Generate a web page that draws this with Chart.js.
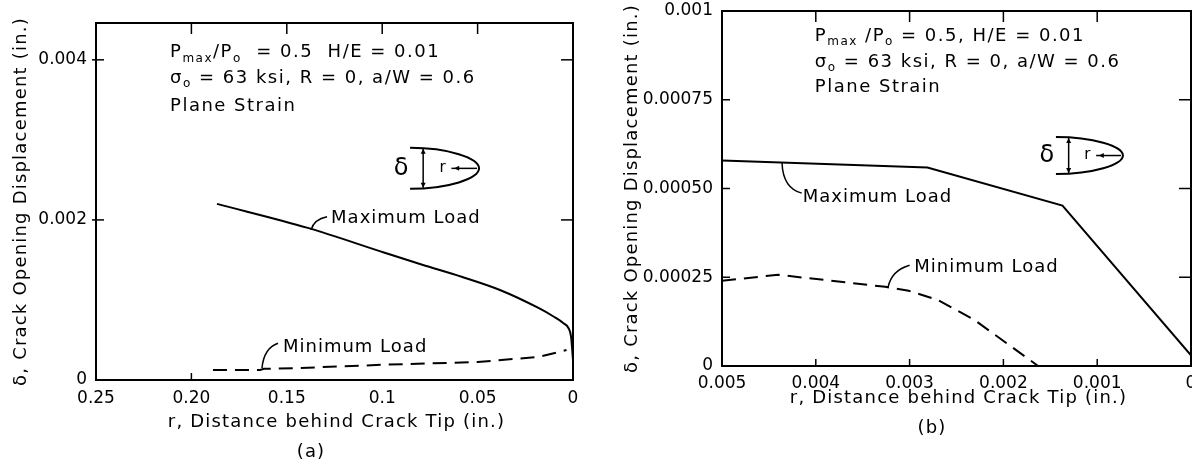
<!DOCTYPE html>
<html lang="en">
<head>
<meta charset="UTF-8">
<title>Crack opening displacement behind the crack tip</title>
<script src="https://cdn.jsdelivr.net/npm/chart.js"></script>
<style>
    body { margin: 0; background: #fff; }
    #page { position: relative; width: 1192px; height: 464px; overflow: hidden; }
    canvas { position: absolute; top: 0; display: block; }
    #chartA { left: 0; }
    #chartB { left: 590px; }
</style>
</head>
<body>
<div id="page">
    <canvas id="chartA" width="590" height="464"></canvas>
    <canvas id="chartB" width="602" height="464"></canvas>
</div>

<script>
// ---------- panel (a) ----------
const rMaxA = [0.1866, 0.139, 0.0987, 0.079, 0.0584, 0.0383, 0.0181, 0.010, 0.005, 0.0024, 0.001, 0];
const dMaxA = [0.00220, 0.00190, 0.00159, 0.00144, 0.00129, 0.001125, 0.00090, 0.00079, 0.00071, 0.00065, 0.00054, 0.00025];
const rMinA = [0.1887, 0.164, 0.162, 0.143, 0.100, 0.050, 0.0175, 0.0034];
const dMinA = [0.000125, 0.000125, 0.00014, 0.00015, 0.00019, 0.000225, 0.00029, 0.000375];
const xTicksA = [0.25, 0.20, 0.15, 0.1, 0.05, 0];
const xLabelsA = ['0.25', '0.20', '0.15', '0.1', '0.05', '0'];
const yTicksA = [0, 0.002, 0.004];
const yLabelsA = ['0', '0.002', '0.004'];

// ---------- panel (b) ----------
const rMaxB = [0.005, 0.00281, 0.00137, 0];
const dMaxB = [0.000579, 0.000559, 0.000452, 0.00003];
const rMinB = [0.005, 0.0044, 0.00326, 0.00301, 0.0027, 0.00231, 0.00163];
const dMinB = [0.00024, 0.000257, 0.000223, 0.000212, 0.000186, 0.00013, 0];
const xTicksB = [0.005, 0.004, 0.003, 0.002, 0.001, 0];
const xLabelsB = ['0.005', '0.004', '0.003', '0.002', '0.001', '0'];
const yTicksB = [0, 0.00025, 0.0005, 0.00075, 0.001];
const yLabelsB = ['0', '0.00025', '0.00050', '0.00075', '0.001'];

const FONT = "'DejaVu Sans', sans-serif";
Chart.defaults.font.family = FONT;
Chart.defaults.color = '#000';

// text with subscripts, left aligned
function drawRuns(ctx, runs, x, y, size, spacing) {
    ctx.letterSpacing = spacing + 'px';
    ctx.textAlign = 'left';
    ctx.textBaseline = 'middle';
    runs.forEach(r => {
        const fs = r.sub ? Math.round(size * 0.65) : size;
        ctx.font = fs + 'px ' + FONT;
        ctx.fillText(r.t, x, y + (r.sub ? size * 0.32 : 0));
        x += ctx.measureText(r.t).width;
    });
}

function arrowHead(ctx, x, y, dx, dy) {
    // small filled head pointing along (dx, dy)
    const s = 5;
    ctx.beginPath();
    ctx.moveTo(x, y);
    ctx.lineTo(x - dx * s - dy * s * 0.5, y - dy * s + dx * s * 0.5);
    ctx.lineTo(x - dx * s + dy * s * 0.5, y - dy * s - dx * s * 0.5);
    ctx.closePath();
    ctx.fill();
}

// little sketch of the open crack with delta and r
function drawCrack(ctx, left, top, w, h) {
    const mid = top + h / 2;
    ctx.lineWidth = 2;
    ctx.beginPath();
    ctx.moveTo(left, top);
    ctx.bezierCurveTo(left + w * 0.55, top, left + w, top + h * 0.25, left + w, mid);
    ctx.bezierCurveTo(left + w, top + h * 0.75, left + w * 0.55, top + h, left, top + h);
    ctx.stroke();

    const ax = left + w * 0.19;
    ctx.lineWidth = 1.5;
    ctx.beginPath();
    ctx.moveTo(ax, top + 1);
    ctx.lineTo(ax, top + h - 1);
    ctx.stroke();
    arrowHead(ctx, ax, top + 1, 0, -1);
    arrowHead(ctx, ax, top + h - 1, 0, 1);

    ctx.beginPath();
    ctx.moveTo(left + w * 0.6, mid);
    ctx.lineTo(left + w - 2, mid);
    ctx.stroke();
    arrowHead(ctx, left + w * 0.64, mid, -1, 0);

    ctx.letterSpacing = '0px';
    ctx.textAlign = 'center';
    ctx.textBaseline = 'middle';
    ctx.font = '24px ' + FONT;
    ctx.fillText('δ', left - 9, mid);
    ctx.font = '15px ' + FONT;
    ctx.fillText('r', left + w * 0.47, mid);
}

const paper = {
    id: 'paper',
    beforeDraw(chart) {
        const ctx = chart.ctx;
        ctx.save();
        ctx.fillStyle = '#fff';
        ctx.fillRect(0, 0, chart.width, chart.height);
        ctx.restore();
    },
    afterDraw(chart, args, o) {
        const ctx = chart.ctx, a = chart.chartArea;
        const x = chart.scales.x, y = chart.scales.y;
        const P = (r, d) => [x.getPixelForValue(r), y.getPixelForValue(d)];
        const seg = (x1, y1, x2, y2) => {
            ctx.beginPath(); ctx.moveTo(x1, y1); ctx.lineTo(x2, y2); ctx.stroke();
        };
        ctx.save();
        ctx.strokeStyle = '#000';
        ctx.fillStyle = '#000';

        // top and right of the frame
        ctx.lineWidth = 2;
        ctx.beginPath();
        ctx.moveTo(a.left - 1, a.top);
        ctx.lineTo(a.right, a.top);
        ctx.lineTo(a.right, a.bottom + 1);
        ctx.stroke();

        // tick marks
        ctx.lineWidth = 1.5;
        o.topTicks.forEach(v => { const px = x.getPixelForValue(v); seg(px, a.top, px, a.top + 11); });
        o.bottomTicks.forEach(v => { const px = x.getPixelForValue(v); seg(px, a.bottom, px, a.bottom - 7); });
        o.leftTicks.forEach(v => { const py = y.getPixelForValue(v); seg(a.left - o.leftOut, py, a.left + 8, py); });
        o.rightTicks.forEach(v => { const py = y.getPixelForValue(v); seg(a.right - 12, py, a.right, py); });

        // parameter note
        o.note.forEach((runs, i) => {
            const p = P(o.noteAt[0], o.noteAt[1][i]);
            drawRuns(ctx, runs, p[0], p[1], 18, 1.5);
        });

        // curve labels with leaders
        o.labels.forEach(l => {
            const p = P(l.at[0], l.at[1]);
            drawRuns(ctx, [{t: l.text}], p[0], p[1], 18, 1);
            const p0 = P(l.lead[0][0], l.lead[0][1]);
            const p1 = P(l.lead[1][0], l.lead[1][1]);
            const p2 = P(l.lead[2][0], l.lead[2][1]);
            ctx.lineWidth = 1.5;
            ctx.beginPath();
            ctx.moveTo(p0[0], p0[1]);
            ctx.quadraticCurveTo(p1[0], p1[1], p2[0], p2[1]);
            ctx.stroke();
        });

        const c = P(o.crack.at[0], o.crack.at[1]);
        drawCrack(ctx, c[0], c[1], o.crack.w, o.crack.h);

        // axis titles and caption
        ctx.font = '18px ' + FONT;
        ctx.letterSpacing = '1.2px';
        ctx.textAlign = 'center';
        ctx.textBaseline = 'middle';
        ctx.fillText('r, Distance behind Crack Tip (in.)', (a.left + a.right) / 2 + o.xTitleDx, a.bottom + o.xTitleDy);
        ctx.fillText(o.caption, o.capX, o.capY);
        ctx.save();
        ctx.translate(o.yTitleX, (a.top + a.bottom) / 2);
        ctx.rotate(-Math.PI / 2);
        ctx.fillText('δ, Crack Opening Displacement (in.)', 0, 0);
        ctx.restore();

        ctx.restore();
    }
};

function lineSet(xs, ys, dashed, smooth) {
    return {
        data: xs.map((v, i) => ({x: v, y: ys[i]})),
        showLine: true,
        borderColor: '#000',
        borderWidth: 2,
        borderDash: dashed ? [14, 8] : [],
        pointRadius: 0,
        fill: false,
        tension: 0,
        cubicInterpolationMode: smooth ? 'monotone' : 'default'
    };
}

function makeChart(id, cfg) {
    return new Chart(document.getElementById(id), {
        type: 'scatter',
        data: {
            datasets: [
                lineSet(cfg.rMax, cfg.dMax, false, cfg.smooth),
                lineSet(cfg.rMin, cfg.dMin, true, false)
            ]
        },
        options: {
            responsive: false,
            animation: false,
            devicePixelRatio: 1,
            layout: { padding: cfg.pad },
            plugins: {
                legend: { display: false },
                tooltip: { enabled: false },
                paper: cfg.paper
            },
            scales: {
                x: {
                    type: 'linear',
                    reverse: true,
                    min: 0,
                    max: cfg.xMax,
                    afterBuildTicks: s => { s.ticks = cfg.xTicks.map(v => ({value: v})); },
                    afterFit: s => { s.height = cfg.xHeight; s.paddingLeft = 0; s.paddingRight = 0; },
                    grid: { display: false, drawTicks: false },
                    border: { display: true, color: '#000', width: 2 },
                    ticks: {
                        padding: cfg.xPad,
                        maxRotation: 0,
                        autoSkip: false,
                        font: { size: 17 },
                        callback: (v, i) => cfg.xLabels[i]
                    }
                },
                y: {
                    type: 'linear',
                    min: 0,
                    max: cfg.yMax,
                    afterBuildTicks: s => { s.ticks = cfg.yTicks.map(v => ({value: v})); },
                    afterFit: s => { s.width = cfg.yWidth; s.paddingTop = 0; s.paddingBottom = 0; },
                    grid: { display: false, drawTicks: false },
                    border: { display: true, color: '#000', width: 2 },
                    ticks: {
                        padding: cfg.yPad,
                        autoSkip: false,
                        font: { size: 17 },
                        callback: (v, i) => cfg.yLabels[i]
                    }
                }
            }
        },
        plugins: [paper]
    });
}

makeChart('chartA', {
    rMax: rMaxA, dMax: dMaxA, rMin: rMinA, dMin: dMinA, smooth: true,
    xMax: 0.25, yMax: 0.00446,
    xTicks: xTicksA, xLabels: xLabelsA, yTicks: yTicksA, yLabels: yLabelsA,
    pad: { left: 0, right: 17, top: 23, bottom: 0 },
    xHeight: 84, yWidth: 96, yPad: 9, xPad: 8,
    paper: {
        topTicks: [0.20, 0.15, 0.1, 0.05],
        bottomTicks: [0.20],
        leftTicks: [0.002, 0.004],
        leftOut: 4,
        rightTicks: [0.002, 0.004],
        noteAt: [0.2112, [0.00409, 0.003775, 0.003425]],
        note: [
            [{t: 'P'}, {t: 'max', sub: true}, {t: '/P'}, {t: 'o', sub: true}, {t: '  = 0.5  H/E = 0.01'}],
            [{t: 'σ'}, {t: 'o', sub: true}, {t: ' = 63 ksi, R = 0, a/W = 0.6'}],
            [{t: 'Plane Strain'}]
        ],
        labels: [
            { text: 'Maximum Load', at: [0.1268, 0.002025],
              lead: [[0.1373, 0.001875], [0.1357, 0.00201], [0.1289, 0.00204]] },
            { text: 'Minimum Load', at: [0.152, 0.000413],
              lead: [[0.163, 0.00015], [0.162, 0.0004], [0.1546, 0.00046]] }
        ],
        crack: { at: [0.0854, 0.0029], w: 69, h: 41 },
        xTitleDx: 2, xTitleDy: 42,
        yTitleX: 21,
        caption: '(a)', capX: 311, capY: 452
    }
});

makeChart('chartB', {
    rMax: rMaxB, dMax: dMaxB, rMin: rMinB, dMin: dMinB, smooth: false,
    xMax: 0.005, yMax: 0.001,
    xTicks: xTicksB, xLabels: xLabelsB, yTicks: yTicksB, yLabels: yLabelsB,
    pad: { left: 0, right: 1, top: 11, bottom: 0 },
    xHeight: 98, yWidth: 132, yPad: 9, xPad: 7,
    paper: {
        topTicks: [0.004, 0.003, 0.002, 0.001],
        bottomTicks: [0.004, 0.003, 0.002, 0.001],
        leftTicks: [0.00025, 0.0005, 0.00075],
        leftOut: 0,
        rightTicks: [0.00025, 0.0005, 0.00075],
        noteAt: [0.00401, [0.00093, 0.000856, 0.000786]],
        note: [
            [{t: 'P'}, {t: 'max', sub: true}, {t: ' /P'}, {t: 'o', sub: true}, {t: ' = 0.5, H/E = 0.01'}],
            [{t: 'σ'}, {t: 'o', sub: true}, {t: ' = 63 ksi, R = 0, a/W = 0.6'}],
            [{t: 'Plane Strain'}]
        ],
        labels: [
            { text: 'Maximum Load', at: [0.00414, 0.000476],
              lead: [[0.00436, 0.000572], [0.00435, 0.000501], [0.00415, 0.000487]] },
            { text: 'Minimum Load', at: [0.00295, 0.000279],
              lead: [[0.00323, 0.000222], [0.00319, 0.00027], [0.003, 0.000284]] }
        ],
        crack: { at: [0.00144, 0.000645], w: 67, h: 37 },
        xTitleDx: 2, xTitleDy: 32,
        yTitleX: 42,
        caption: '(b)', capX: 342, capY: 428
    }
});
</script>
</body>
</html>
